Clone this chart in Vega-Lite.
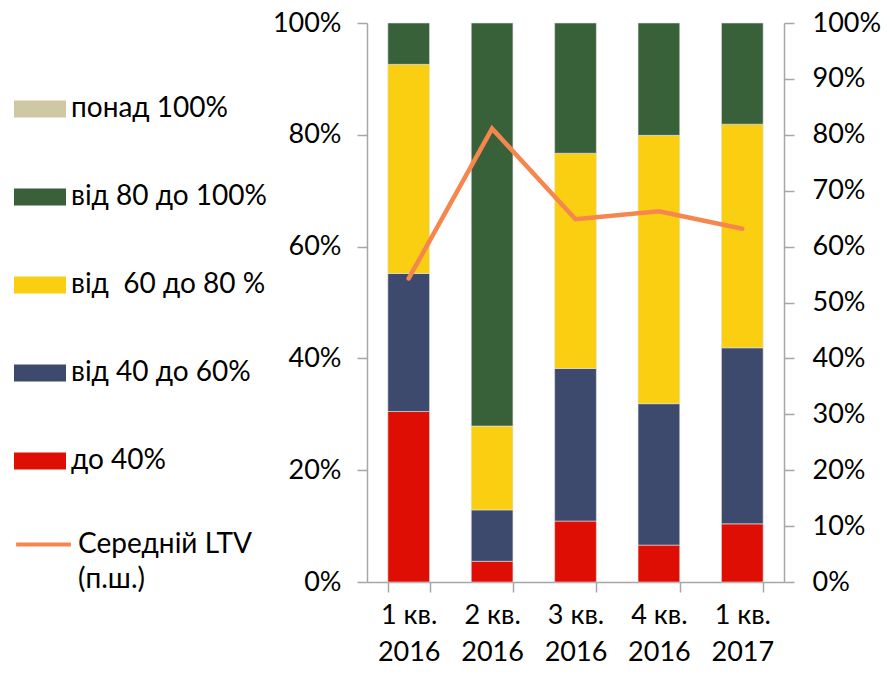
{
  "$schema": "https://vega.github.io/schema/vega-lite/v6.json",
  "autosize": {"type": "none"},
  "padding": {"left": 367, "top": 23, "right": 105, "bottom": 92},
  "width": 417,
  "height": 559,
  "config": {
    "font": "Lato",
    "view": {"stroke": null},
    "axis": {
      "labelFont": "Lato", "labelFontSize": 27, "labelColor": "#000000",
      "domainColor": "#A6A6A6", "tickColor": "#A6A6A6", "domainWidth": 1.5, "tickWidth": 1.5,
      "grid": false, "title": null, "labelOverlap": false
    },
    "legend": {"labelFont": "Lato", "labelFontSize": 28, "labelColor": "#000000", "padding": 0, "labelLimit": 400}
  },
  "datasets": {
    "bars": [
      {"q": "1 кв. 2016", "band": "до 40%", "rank": 1, "v": 0.305},
      {"q": "1 кв. 2016", "band": "від 40 до 60%", "rank": 2, "v": 0.247},
      {"q": "1 кв. 2016", "band": "від  60 до 80 %", "rank": 3, "v": 0.374},
      {"q": "1 кв. 2016", "band": "від 80 до 100%", "rank": 4, "v": 0.074},
      {"q": "2 кв. 2016", "band": "до 40%", "rank": 1, "v": 0.037},
      {"q": "2 кв. 2016", "band": "від 40 до 60%", "rank": 2, "v": 0.092},
      {"q": "2 кв. 2016", "band": "від  60 до 80 %", "rank": 3, "v": 0.150},
      {"q": "2 кв. 2016", "band": "від 80 до 100%", "rank": 4, "v": 0.721},
      {"q": "3 кв. 2016", "band": "до 40%", "rank": 1, "v": 0.109},
      {"q": "3 кв. 2016", "band": "від 40 до 60%", "rank": 2, "v": 0.273},
      {"q": "3 кв. 2016", "band": "від  60 до 80 %", "rank": 3, "v": 0.385},
      {"q": "3 кв. 2016", "band": "від 80 до 100%", "rank": 4, "v": 0.233},
      {"q": "4 кв. 2016", "band": "до 40%", "rank": 1, "v": 0.066},
      {"q": "4 кв. 2016", "band": "від 40 до 60%", "rank": 2, "v": 0.253},
      {"q": "4 кв. 2016", "band": "від  60 до 80 %", "rank": 3, "v": 0.480},
      {"q": "4 кв. 2016", "band": "від 80 до 100%", "rank": 4, "v": 0.201},
      {"q": "1 кв. 2017", "band": "до 40%", "rank": 1, "v": 0.104},
      {"q": "1 кв. 2017", "band": "від 40 до 60%", "rank": 2, "v": 0.315},
      {"q": "1 кв. 2017", "band": "від  60 до 80 %", "rank": 3, "v": 0.400},
      {"q": "1 кв. 2017", "band": "від 80 до 100%", "rank": 4, "v": 0.181}
    ],
    "ltv": [
      {"q": "1 кв. 2016", "series": "Середній LTV (п.ш.)", "ltv": 0.543},
      {"q": "2 кв. 2016", "series": "Середній LTV (п.ш.)", "ltv": 0.811},
      {"q": "3 кв. 2016", "series": "Середній LTV (п.ш.)", "ltv": 0.649},
      {"q": "4 кв. 2016", "series": "Середній LTV (п.ш.)", "ltv": 0.663},
      {"q": "1 кв. 2017", "series": "Середній LTV (п.ш.)", "ltv": 0.632}
    ]
  },
  "encoding": {
    "x": {
      "field": "q", "type": "nominal", "sort": null,
      "scale": {"paddingInner": 0.5, "paddingOuter": 0.25},
      "axis": {
        "labelAngle": 0, "tickBand": "extent", "tickSize": 10, "labelPadding": 10,
        "labelLineHeight": 37,
        "labelExpr": "[slice(datum.label, 0, 5), slice(datum.label, 6)]"
      }
    }
  },
  "layer": [
    {
      "data": {"name": "bars"},
      "mark": {"type": "bar", "stroke": "#E0E0E0", "strokeWidth": 0.6},
      "encoding": {
        "y": {
          "field": "v", "type": "quantitative", "stack": "zero",
          "scale": {"domain": [0, 1], "nice": false},
          "axis": {"orient": "left", "format": ".0%", "values": [0, 0.2, 0.4, 0.6, 0.8, 1], "tickSize": 10, "labelPadding": 16}
        },
        "order": {"field": "rank", "type": "quantitative", "sort": "ascending"},
        "fill": {
          "field": "band", "type": "nominal",
          "scale": {
            "domain": ["понад 100%", "від 80 до 100%", "від  60 до 80 %", "від 40 до 60%", "до 40%"],
            "range": ["#CFC8A5", "#38613A", "#FACF12", "#3D4A6D", "#DE0E04"]
          },
          "legend": {
            "orient": "none", "legendX": -353, "legendY": 60, "title": null,
            "symbolType": "M-1,-0.327H1V0.327H-1Z", "symbolSize": 2704,
            "symbolStrokeWidth": 0, "rowPadding": 48, "labelOffset": 5,
            "labelExpr": "replace(datum.label, '  ', ' \u00a0')"
          }
        }
      }
    },
    {
      "data": {"name": "ltv"},
      "mark": {"type": "line", "strokeWidth": 4.5, "strokeCap": "round"},
      "encoding": {
        "y": {
          "field": "ltv", "type": "quantitative",
          "scale": {"domain": [0, 1], "nice": false},
          "axis": {"orient": "right", "format": ".0%", "values": [0, 0.1, 0.2, 0.3, 0.4, 0.5, 0.6, 0.7, 0.8, 0.9, 1], "tickSize": 10, "labelPadding": 18}
        },
        "stroke": {
          "field": "series", "type": "nominal",
          "scale": {"range": ["#F5864E"]},
          "legend": {
            "orient": "none", "legendX": -353, "legendY": 492, "title": null,
            "symbolType": "stroke", "symbolSize": 3000, "symbolStrokeWidth": 4,
            "labelOffset": 5,
            "labelExpr": "['Середній LTV', '(п.ш.)']",
            "encode": {"labels": {"update": {"lineHeight": {"value": 35}}}}
          }
        }
      }
    }
  ],
  "resolve": {"scale": {"y": "independent"}}
}
